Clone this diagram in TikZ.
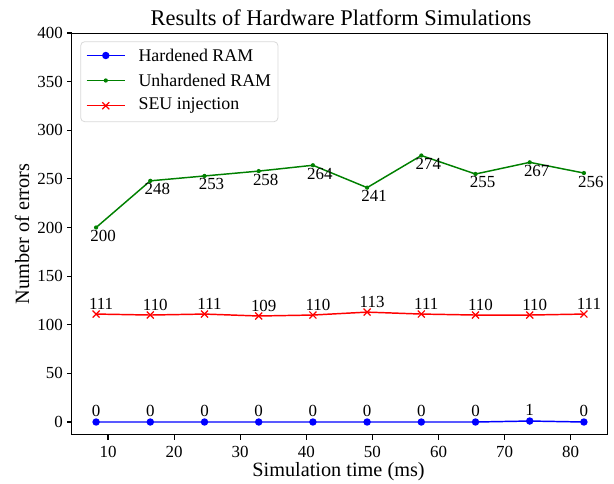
\documentclass[tikz,border=0pt]{standalone}
\usepackage{fontspec}
\usetikzlibrary{calc}
\setmainfont{Liberation Serif}
\definecolor{mplblue}{RGB}{0,0,255}
\definecolor{mplgreen}{RGB}{0,128,0}
\definecolor{mplred}{RGB}{255,0,0}
\newcommand{\tickfont}{\fontsize{12.7}{15}\selectfont}
\newcommand{\labfont}{\fontsize{15.2}{18}\selectfont}
\newcommand{\titfont}{\fontsize{16.8}{20}\selectfont}
\newcommand{\legfont}{\fontsize{13.4}{16}\selectfont}
\begin{document}
\begin{tikzpicture}[x=0.75pt,y=-0.75pt,
  declare function={px(\v)=108+(\v-10)*6.61; py(\n)=422-0.9725*\n;},
  spine/.style={line width=0.8pt,black},
  tickline/.style={line width=0.8pt,black},
  ticklab/.style={inner sep=0pt,font=\tickfont},
  annot/.style={inner sep=0pt,font=\tickfont},
  bluel/.style={mplblue,line width=1.1pt,line join=round},
  greenl/.style={mplgreen,line width=1.1pt,line join=round},
  redl/.style={mplred,line width=1.1pt,line join=round},
  bluem/.style={circle,fill=mplblue,inner sep=0pt,minimum size=5.6pt},
  greenm/.style={circle,fill=mplgreen,inner sep=0pt,minimum size=3.2pt},
  redm/.style={mplred,line width=0.9pt}
]
\useasboundingbox (0,0) rectangle (614,483);
% axes frame
\draw[spine] (71.7,33.3) rectangle (607.7,434.5);
% y ticks
\foreach \n in {0,50,...,400}{
  \draw[tickline] (71.7,{py(\n)}) -- (66.5,{py(\n)});
  \node[ticklab,anchor=east] at (63,{py(\n)}) {\n};
}
% x ticks
\foreach \v in {10,20,...,80}{
  \draw[tickline] ({px(\v)},434.5) -- ({px(\v)},439.7);
  \node[ticklab,anchor=north] at ({px(\v)},445.5) {\v};
}
% labels
\node[font=\titfont,anchor=base] (title) at (341,25) {Results of Hardware Platform Simulations};
\node[font=\labfont,anchor=base] (xlab) at (338.5,476) {Simulation time (ms)};
\node[font=\labfont,rotate=90] (ylab) at (22,234) {Number of errors};
% green series
\draw[greenl] plot coordinates {({px(8.2)},{py(200)}) ({px(16.4)},{py(248)}) ({px(24.6)},{py(253)}) ({px(32.8)},{py(258)}) ({px(41)},{py(264)}) ({px(49.2)},{py(241)}) ({px(57.4)},{py(274)}) ({px(65.6)},{py(255)}) ({px(73.8)},{py(267)}) ({px(82)},{py(256)})};
\foreach \n [count=\i] in {200,248,253,258,264,241,274,255,267,256}{
  \node[greenm] (g\i) at ({px(8.2*\i)},{py(\n)}) {};
  \node[annot,anchor=north] at ({px(8.2*\i)+7},{py(\n)+2.5}) {\n};
}
% red series
\draw[redl] plot coordinates {({px(8.2)},{py(111)}) ({px(16.4)},{py(110)}) ({px(24.6)},{py(111)}) ({px(32.8)},{py(109)}) ({px(41)},{py(110)}) ({px(49.2)},{py(113)}) ({px(57.4)},{py(111)}) ({px(65.6)},{py(110)}) ({px(73.8)},{py(110)}) ({px(82)},{py(111)})};
\foreach \n [count=\i] in {111,110,111,109,110,113,111,110,110,111}{
  \coordinate (r\i) at ({px(8.2*\i)},{py(\n)});
  \draw[redm] ($(r\i)+(-3.5,-3.5)$) -- ($(r\i)+(3.5,3.5)$) ($(r\i)+(-3.5,3.5)$) -- ($(r\i)+(3.5,-3.5)$);
  \node[annot,anchor=base] at ({px(8.2*\i)+5},{py(\n)-4.5}) {\n};
}
% blue series
\draw[bluel] plot coordinates {({px(8.2)},{py(0)}) ({px(16.4)},{py(0)}) ({px(24.6)},{py(0)}) ({px(32.8)},{py(0)}) ({px(41)},{py(0)}) ({px(49.2)},{py(0)}) ({px(57.4)},{py(0)}) ({px(65.6)},{py(0)}) ({px(73.8)},{py(1)}) ({px(82)},{py(0)})};
\foreach \n [count=\i] in {0,0,0,0,0,0,0,0,1,0}{
  \node[bluem] (b\i) at ({px(8.2*\i)},{py(\n)}) {};
  \node[annot,anchor=base] at ({px(8.2*\i)},{py(\n)-6}) {\n};
}
% legend
\draw[rounded corners=3pt,draw=black!15,fill=white,line width=0.6pt] (80.7,41.7) rectangle (278,121.7);
\draw[bluel] (86.7,55.5) -- (125,55.5);
\node[bluem] (lb) at (105.8,55.5) {};
\node[font=\legfont,anchor=west,inner sep=0pt] at (138.3,55.5) {Hardened RAM};
\draw[greenl] (86.7,80.5) -- (125,80.5);
\node[greenm] (lg) at (105.8,80.5) {};
\node[font=\legfont,anchor=west,inner sep=0pt] at (138.3,80.5) {Unhardened RAM};
\draw[redl] (86.7,105.7) -- (125,105.7);
\coordinate (lr) at (105.8,105.7);
\draw[redm] ($(lr)+(-3.5,-3.5)$) -- ($(lr)+(3.5,3.5)$) ($(lr)+(-3.5,3.5)$) -- ($(lr)+(3.5,-3.5)$);
\node[font=\legfont,anchor=west,inner sep=0pt] at (138.3,105.7) {SEU injection};
\end{tikzpicture}
\end{document}
